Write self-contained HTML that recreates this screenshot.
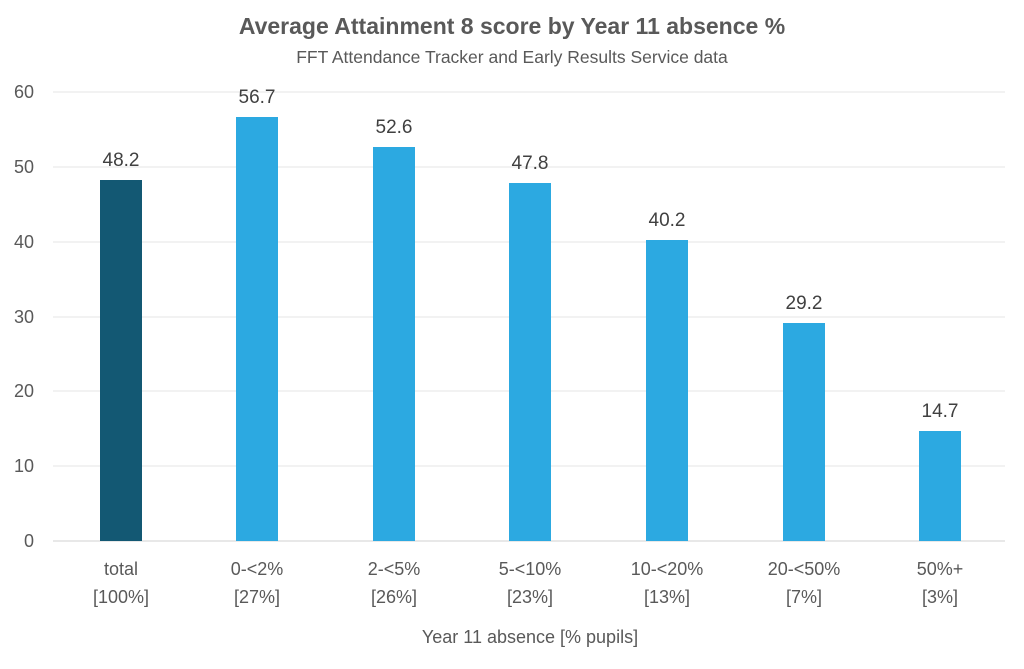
<!DOCTYPE html>
<html><head><meta charset="utf-8"><style>
body{margin:0;background:#fff}
svg{display:block;font-family:"Liberation Sans",sans-serif}
</style></head><body>
<svg width="1024" height="669" viewBox="0 0 1024 669">
<text x="512" y="34" text-anchor="middle" font-size="23" font-weight="bold" fill="#595959">Average Attainment 8 score by Year 11 absence %</text>
<text x="512" y="63" text-anchor="middle" font-size="17.5" fill="#595959">FFT Attendance Tracker and Early Results Service data</text>
<g stroke="#e4e4e4" stroke-width="1">
<line x1="53" x2="1005" y1="92" y2="92"/><line x1="53" x2="1005" y1="167" y2="167"/>
<line x1="53" x2="1005" y1="242" y2="242"/><line x1="53" x2="1005" y1="317" y2="317"/>
<line x1="53" x2="1005" y1="391" y2="391"/><line x1="53" x2="1005" y1="466" y2="466"/>
</g>
<line x1="53" x2="1005" y1="541" y2="541" stroke="#d0d0d0"/>
<g font-size="18" fill="#595959" text-anchor="end">
<text x="34" y="98">60</text><text x="34" y="173">50</text><text x="34" y="248">40</text>
<text x="34" y="323">30</text><text x="34" y="397">20</text><text x="34" y="472">10</text><text x="34" y="547">0</text>
</g>
<rect x="100" y="180" width="42" height="361" fill="#135873"/>
<g fill="#2ca9e1">
<rect x="236" y="117" width="42" height="424"/>
<rect x="373" y="147" width="42" height="394"/>
<rect x="509" y="183" width="42" height="358"/>
<rect x="646" y="240" width="42" height="301"/>
<rect x="783" y="323" width="42" height="218"/>
<rect x="919" y="431" width="42" height="110"/>
</g>
<g font-size="19" fill="#404040" text-anchor="middle">
<text x="121" y="166">48.2</text><text x="257" y="103">56.7</text><text x="394" y="133">52.6</text>
<text x="530" y="169">47.8</text><text x="667" y="226">40.2</text><text x="804" y="309">29.2</text><text x="940" y="417">14.7</text>
</g>
<g font-size="18" fill="#595959" text-anchor="middle">
<text x="121" y="575">total</text><text x="121" y="603">[100%]</text>
<text x="257" y="575">0-&lt;2%</text><text x="257" y="603">[27%]</text>
<text x="394" y="575">2-&lt;5%</text><text x="394" y="603">[26%]</text>
<text x="530" y="575">5-&lt;10%</text><text x="530" y="603">[23%]</text>
<text x="667" y="575">10-&lt;20%</text><text x="667" y="603">[13%]</text>
<text x="804" y="575">20-&lt;50%</text><text x="804" y="603">[7%]</text>
<text x="940" y="575">50%+</text><text x="940" y="603">[3%]</text>
<text x="530" y="643">Year 11 absence [% pupils]</text>
</g>
</svg>
</body></html>
